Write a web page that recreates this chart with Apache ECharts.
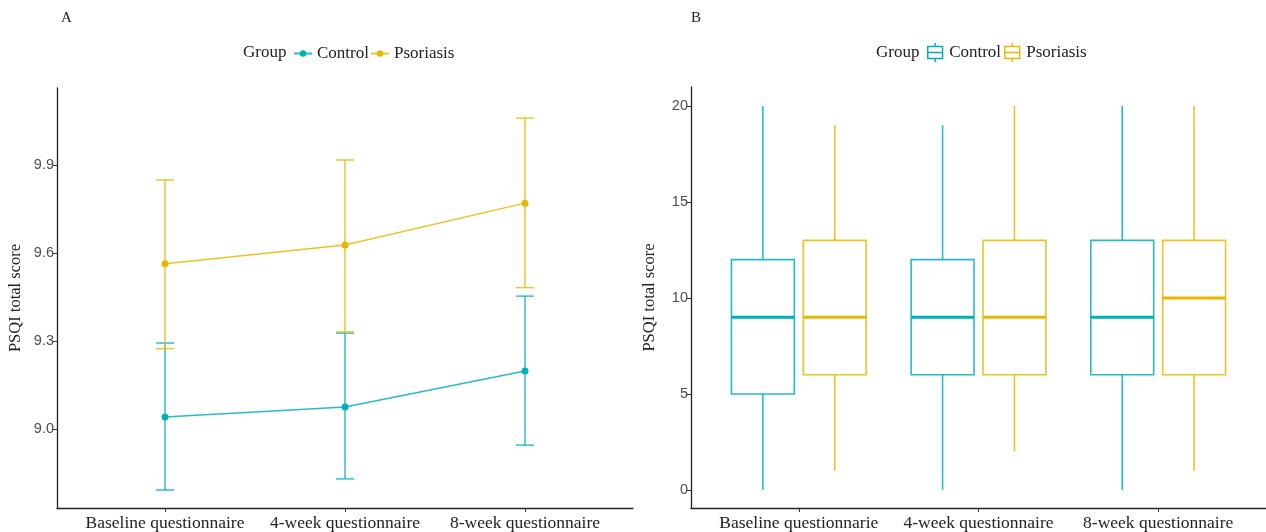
<!DOCTYPE html>
<html>
<head>
<meta charset="utf-8">
<script src="https://cdn.jsdelivr.net/npm/echarts@6/dist/echarts.min.js"></script>
<style>
  html, body { margin: 0; padding: 0; background: #fff; }
  #chart { width: 1266px; height: 532px; }
</style>
</head>
<body>
<div id="chart"></div>
<script>
// ---------- Data ----------
const categoriesA = ['Baseline questionnaire', '4-week questionnaire', '8-week questionnaire'];
const categoriesB = ['Baseline questionnarie', '4-week questionnaire', '8-week questionnaire'];
const groups = ['Control', 'Psoriasis'];

// Panel A: mean with error bars
const controlMean = [9.041, 9.075, 9.198];
const controlLower = [8.792, 8.830, 8.945];
const controlUpper = [9.293, 9.327, 9.453];
const psoriasisMean = [9.563, 9.627, 9.770];
const psoriasisLower = [9.274, 9.331, 9.482];
const psoriasisUpper = [9.849, 9.917, 10.060];
const yTicksA = [9.0, 9.3, 9.6, 9.9];

// Panel B: box statistics [min, q1, median, q3, max]
const controlBox = [[0, 5, 9, 12, 20], [0, 6, 9, 12, 19], [0, 6, 9, 13, 20]];
const psoriasisBox = [[1, 6, 9, 13, 19], [2, 6, 9, 13, 20], [1, 6, 10, 13, 20]];
const yTicksB = [0, 5, 10, 15, 20];

// ---------- Styles ----------
const COLORS = { Control: '#00AFBB', Psoriasis: '#E7B800' };
const SERIF = '"Liberation Serif", "Times New Roman", serif';
const SANS = '"Liberation Sans", Arial, sans-serif';
const xPos = [1, 2, 3];

function xAxisCfg(gridIndex, cats) {
  return {
    type: 'value', gridIndex: gridIndex, min: 0.4, max: 3.6,
    axisLine: { show: true, onZero: false, lineStyle: { color: '#222', width: 1.3 } },
    axisTick: { show: true, length: 4, customValues: xPos, lineStyle: { color: '#333', width: 1 } },
    axisLabel: {
      customValues: xPos, margin: 6,
      formatter: v => cats[Math.round(v) - 1] || '',
      fontFamily: SERIF, fontSize: 17.5, color: '#222'
    },
    splitLine: { show: false }
  };
}
function yAxisCfg(gridIndex, min, max, ticks, fmt) {
  return {
    type: 'value', gridIndex: gridIndex, min: min, max: max,
    name: 'PSQI total score', nameLocation: 'middle', nameGap: 33,
    nameTextStyle: { fontFamily: SERIF, fontSize: 16.5, color: '#222' },
    axisLine: { show: true, onZero: false, lineStyle: { color: '#222', width: 1.3 } },
    axisTick: { show: true, length: 5, customValues: ticks, lineStyle: { color: '#333', width: 1 } },
    axisLabel: { customValues: ticks, margin: 3, formatter: fmt, fontFamily: SANS, fontSize: 14.5, color: '#4d4d4d' },
    splitLine: { show: false }
  };
}

function errorBarSeries(name, lower, upper) {
  const color = COLORS[name];
  return {
    type: 'custom', name: name + ' error', xAxisIndex: 0, yAxisIndex: 0, z: 1,
    data: xPos.map((x, i) => [x, lower[i], upper[i]]),
    renderItem: function (params, api) {
      const x = api.value(0), lo = api.value(1), hi = api.value(2);
      const pLo = api.coord([x, lo]), pHi = api.coord([x, hi]);
      const l = api.coord([x - 0.05, lo])[0], r = api.coord([x + 0.05, lo])[0];
      const st = { stroke: color, lineWidth: 1.5, opacity: 0.8 };
      return { type: 'group', children: [
        { type: 'line', shape: { x1: pLo[0], y1: pLo[1], x2: pHi[0], y2: pHi[1] }, style: st },
        { type: 'line', shape: { x1: l, y1: pLo[1], x2: r, y2: pLo[1] }, style: st },
        { type: 'line', shape: { x1: l, y1: pHi[1], x2: r, y2: pHi[1] }, style: st }
      ]};
    }
  };
}
function lineSeries(name, means) {
  return {
    type: 'line', name: name, xAxisIndex: 0, yAxisIndex: 0, z: 3,
    data: xPos.map((x, i) => [x, means[i]]),
    symbol: 'circle', symbolSize: 7,
    itemStyle: { color: COLORS[name] },
    lineStyle: { color: COLORS[name], width: 1.5, opacity: 0.85 }
  };
}
function boxSeries(name, stats, offset) {
  const color = COLORS[name];
  return {
    type: 'custom', name: name, xAxisIndex: 1, yAxisIndex: 1,
    itemStyle: { color: color },
    data: xPos.map((x, i) => [x].concat(stats[i])),
    renderItem: function (params, api) {
      const c = api.value(0) + offset;
      const vmin = api.value(1), q1 = api.value(2), med = api.value(3), q3 = api.value(4), vmax = api.value(5);
      const L = api.coord([c - 0.175, q1])[0], R = api.coord([c + 0.175, q1])[0];
      const cx = api.coord([c, q1])[0];
      const yMin = api.coord([c, vmin])[1], yQ1 = api.coord([c, q1])[1], yMed = api.coord([c, med])[1];
      const yQ3 = api.coord([c, q3])[1], yMax = api.coord([c, vmax])[1];
      const st = { stroke: color, lineWidth: 1.6, fill: null, opacity: 0.85 };
      return { type: 'group', children: [
        { type: 'line', shape: { x1: cx, y1: yQ3, x2: cx, y2: yMax }, style: st },
        { type: 'line', shape: { x1: cx, y1: yQ1, x2: cx, y2: yMin }, style: st },
        { type: 'rect', shape: { x: L, y: yQ3, width: R - L, height: yQ1 - yQ3 }, style: { stroke: color, lineWidth: 1.6, fill: '#fff', opacity: 0.85 } },
        { type: 'line', shape: { x1: L, y1: yMed, x2: R, y2: yMed }, style: { stroke: color, lineWidth: 3 } }
      ]};
    }
  };
}

const boxIcon = 'path://M8.2,0h1.6v3.2h-1.6Z M0,3h18v1.6h-18Z M0,16.4h18v1.6h-18Z M0,3h1.6v15h-1.6Z M16.4,3h1.6v15h-1.6Z M0,9.7h18v1.6h-18Z M8.2,18h1.6v3h-1.6Z';

const chart = echarts.init(document.getElementById('chart'), null, { renderer: 'canvas' });
chart.setOption({
  backgroundColor: '#fff',
  animation: false,
  title: [
    { text: 'A', left: 61, top: 11, padding: 0, textStyle: { fontFamily: SERIF, fontSize: 15, fontWeight: 'normal', color: '#222' } },
    { text: 'B', left: 691, top: 11, padding: 0, textStyle: { fontFamily: SERIF, fontSize: 15, fontWeight: 'normal', color: '#222' } },
    { text: 'Group', left: 243, top: 44, padding: 0, textStyle: { fontFamily: SERIF, fontSize: 17, fontWeight: 'normal', color: '#222' } },
    { text: 'Group', left: 876, top: 44, padding: 0, textStyle: { fontFamily: SERIF, fontSize: 17, fontWeight: 'normal', color: '#222' } }
  ],
  legend: [
    { data: ['Control', 'Psoriasis'], left: 293, top: 45, padding: 0, itemGap: 1, itemWidth: 18, itemHeight: 8,
      textStyle: { fontFamily: SERIF, fontSize: 17, color: '#222' } },
    { data: groups.map(g => ({ name: g, icon: boxIcon })), left: 927, top: 43, padding: 0, itemGap: 3,
      itemWidth: 18, itemHeight: 19, textStyle: { fontFamily: SERIF, fontSize: 17, color: '#222' } }
  ],
  grid: [
    { left: 57, top: 88, width: 576, height: 420, containLabel: false },
    { left: 691, top: 87, width: 575, height: 421, containLabel: false }
  ],
  xAxis: [xAxisCfg(0, categoriesA), xAxisCfg(1, categoriesB)],
  yAxis: [
    yAxisCfg(0, 8.7307, 10.1625, yTicksA, v => v.toFixed(1)),
    yAxisCfg(1, -0.94, 20.99, yTicksB, v => String(Math.round(v)))
  ],
  series: [
    lineSeries('Control', controlMean),
    lineSeries('Psoriasis', psoriasisMean),
    errorBarSeries('Control', controlLower, controlUpper),
    errorBarSeries('Psoriasis', psoriasisLower, psoriasisUpper),
    boxSeries('Control', controlBox, -0.2),
    boxSeries('Psoriasis', psoriasisBox, 0.2)
  ]
});
</script>
</body>
</html>
